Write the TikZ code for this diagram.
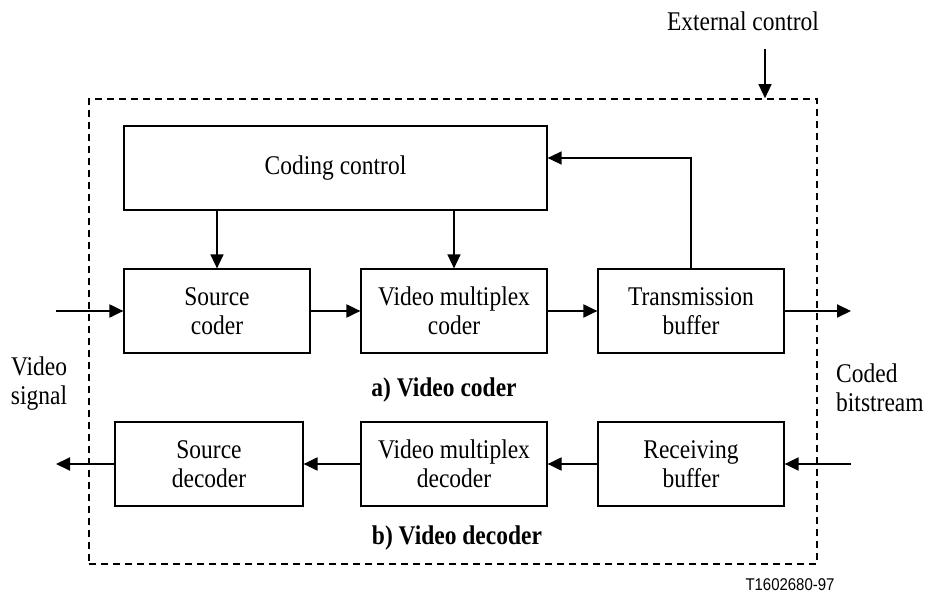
\documentclass[tikz,border=0pt]{standalone}
\usepackage{fontspec}
\setmainfont[FakeStretch=0.87]{Liberation Serif}
\newfontfamily\labfont[FakeStretch=0.88]{Liberation Sans}
\usetikzlibrary{arrows.meta,calc}
\begin{document}
\begin{tikzpicture}[x=1pt,y=-1pt,
  blk/.style={draw,line width=1.2pt,minimum width=186pt,minimum height=84pt,inner sep=0pt,align=center,
    font=\fontsize{27}{29}\selectfont},
  txt/.style={inner sep=0pt,align=center,font=\fontsize{27}{29}\selectfont},
  arr/.style={line width=2pt,-{Triangle[length=14pt,width=13pt]}},
  thinarr/.style={line width=1.3pt,-{Triangle[length=14pt,width=13pt]}}]
\useasboundingbox (0,0) rectangle (927,594);
% frame
\node[draw,dashed,dash pattern=on 7pt off 5pt,line width=1.6pt,minimum width=728pt,minimum height=465pt,inner sep=0pt] (frame) at (453,331.5) {};
% coder
\node[blk,minimum width=423pt] (cc) at (335.5,168) {Coding control};
\node[blk] (sc) at (217,311) {Source\\coder};
\node[blk] (vmc) at (454,311) {Video multiplex\\coder};
\node[blk] (tb) at (691,311) {Transmission\\buffer};
% decoder
\node[blk,minimum width=188pt] (sd) at (209,464) {Source\\decoder};
\node[blk] (vmd) at (454,464) {Video multiplex\\decoder};
\node[blk] (rb) at (691,464) {Receiving\\buffer};
% labels
\node[txt] (ext) at (743,21) {External control};
\node[txt] (vs) at (39,384) {Video\\signal};
\node[txt,anchor=west,align=left] (cb) at (836,388) {Coded\\bitstream};
\node[txt,font=\fontsize{27}{29}\selectfont\bfseries] (la) at (444,390) {a) Video coder};
\node[txt,font=\fontsize{27}{29}\selectfont\bfseries] (lb) at (457,538) {b) Video decoder};
\node[inner sep=0pt,font=\labfont\fontsize{17}{20}\selectfont] (tag) at (790,585) {T1602680-97};
% free ends
\coordinate (vin) at (56,311);
\coordinate (cout) at (851,311);
\coordinate (rin) at (851,464);
\coordinate (vout) at (56,464);
\coordinate (extin) at (765,49);
% connectors
\draw[thinarr] (extin) -- (extin |- frame.north);
\draw[thinarr] (cc.south -| sc.north) -- (sc.north);
\draw[thinarr] (cc.south -| vmc.north) -- (vmc.north);
\draw[thinarr] (tb.north) |- ([yshift=10pt]cc.east);
\draw[arr] (vin) -- (sc.west);
\draw[arr] (sc.east) -- (vmc.west);
\draw[arr] (vmc.east) -- (tb.west);
\draw[arr] (tb.east) -- (cout);
\draw[arr] (rin) -- (rb.east);
\draw[arr] (rb.west) -- (vmd.east);
\draw[arr] (vmd.west) -- (sd.east);
\draw[arr] (sd.west) -- (vout);
\end{tikzpicture}
\end{document}
